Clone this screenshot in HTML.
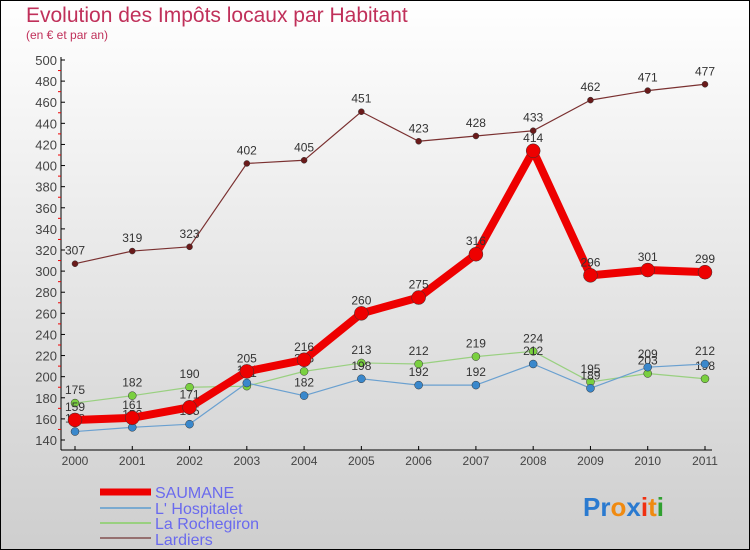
<!DOCTYPE html>
<html><head><meta charset="utf-8"><style>
body{margin:0;}
#wrap{width:750px;height:550px;position:relative;overflow:hidden;font-family:"Liberation Sans",sans-serif;}
</style></head><body>
<div id="wrap">
<svg id="svg" width="750" height="550" xmlns="http://www.w3.org/2000/svg">
<defs><linearGradient id="bg" x1="0" y1="0" x2="0" y2="1"><stop offset="0" stop-color="#ffffff"/><stop offset="1" stop-color="#cecece"/></linearGradient></defs>
<rect x="0.5" y="0.5" width="749" height="549" fill="url(#bg)" stroke="#000" stroke-width="1"/>
<text x="26" y="22" font-size="21" fill="#c0305a">Evolution des Impôts locaux par Habitant</text>
<text x="26" y="39" font-size="12" fill="#c0305a">(en € et par an)</text>
<g id="axes"></g><g id="series"></g>
<g>
<line x1="100" y1="492" x2="151" y2="492" stroke="#ee0000" stroke-width="7"/>
<text x="155" y="498" font-size="16" fill="#6a6aee">SAUMANE</text>
<line x1="100" y1="508" x2="151" y2="508" stroke="#7aaad0" stroke-width="2"/>
<text x="155" y="514" font-size="16" fill="#6a6aee">L' Hospitalet</text>
<line x1="100" y1="523" x2="151" y2="523" stroke="#99d080" stroke-width="2"/>
<text x="155" y="529" font-size="16" fill="#6a6aee">La Rochegiron</text>
<line x1="100" y1="538" x2="151" y2="538" stroke="#957070" stroke-width="2"/>
<text x="155" y="545" font-size="16" fill="#6a6aee">Lardiers</text>
</g>
<text x="583" y="516" font-size="26" font-weight="bold"><tspan fill="#2a7ad0">Pr</tspan><tspan fill="#f08a10">o</tspan><tspan fill="#2a7ad0">x</tspan><tspan fill="#f03010">i</tspan><tspan fill="#f08a10">t</tspan><tspan fill="#30a030">i</tspan></text>
</svg></div>
<script>
const years=["2000","2001","2002","2003","2004","2005","2006","2007","2008","2009","2010","2011"];
const yTicks=[140,160,180,200,220,240,260,280,300,320,340,360,380,400,420,440,460,480,500];
const saumane=[159,161,171,205,216,260,275,316,414,296,301,299];
const hospitalet=[148,152,155,194,182,198,192,192,212,189,209,212];
const rochegiron=[175,182,190,191,205,213,212,219,224,195,203,198];
const lardiers=[307,319,323,402,405,451,423,428,433,462,471,477];
const NS="http://www.w3.org/2000/svg";
const X0=75,X1=705,Y0=440,Y1=60,VMIN=140,VMAX=500;
function xs(i){return X0+(X1-X0)*i/(years.length-1);}
function ys(v){return Y0-(v-VMIN)*(Y0-Y1)/(VMAX-VMIN);}
function mk(tag,attrs,parent){const e=document.createElementNS(NS,tag);for(const k in attrs)e.setAttribute(k,attrs[k]);parent.appendChild(e);return e;}
const axes=document.getElementById('axes'),ser=document.getElementById('series');
let e=mk('line',{x1:61,y1:57,x2:61,y2:450,stroke:'#000','stroke-width':1},axes);

e=mk('line',{x1:61,y1:450,x2:712,y2:450,stroke:'#000','stroke-width':1},axes);

yTicks.forEach((v,i)=>{const y=ys(v);
 mk('line',{x1:61,y1:y,x2:65,y2:y,stroke:'#000'},axes);
 if(i<yTicks.length-1){mk('line',{x1:58,y1:ys(v+10),x2:61,y2:ys(v+10),stroke:'#e00'},axes);}
 const t=mk('text',{x:57,y:y+5,'font-size':13,fill:'#444','text-anchor':'end'},axes);t.textContent=v;
 });
years.forEach((yr,i)=>{const x=xs(i);
 mk('line',{x1:x,y1:446,x2:x,y2:450,stroke:'#000'},axes);
 const t=mk('text',{x:x,y:465,'font-size':12,fill:'#444','text-anchor':'middle'},axes);t.textContent=yr;
 });
function series(data,name,color,w,r,dot){
 const g=mk('g',{},ser);
 const p=mk('polyline',{points:data.map((v,i)=>xs(i)+','+ys(v)).join(' '),fill:'none',stroke:color,'stroke-width':w,'stroke-linejoin':'round'},g);
 
 data.forEach((v,i)=>{const c=mk('circle',{cx:xs(i),cy:ys(v),r:r,fill:dot,stroke:'#333','stroke-width':0.5},g);
  
  const t=mk('text',{x:xs(i),y:ys(v)-9,'font-size':12,fill:'#333','text-anchor':'middle'},g);t.textContent=v;
  });
}
series(lardiers,'lardiers','#7a3030',1.2,3,'#6a1a1a');
series(rochegiron,'rochegiron','#99d080',1.2,4,'#7ad040');
series(hospitalet,'hospitalet','#6aa0d0',1.2,4,'#3a88cc');
series(saumane,'saumane','#ee0000',8,7,'#ee0000');
</script>
</body></html>
